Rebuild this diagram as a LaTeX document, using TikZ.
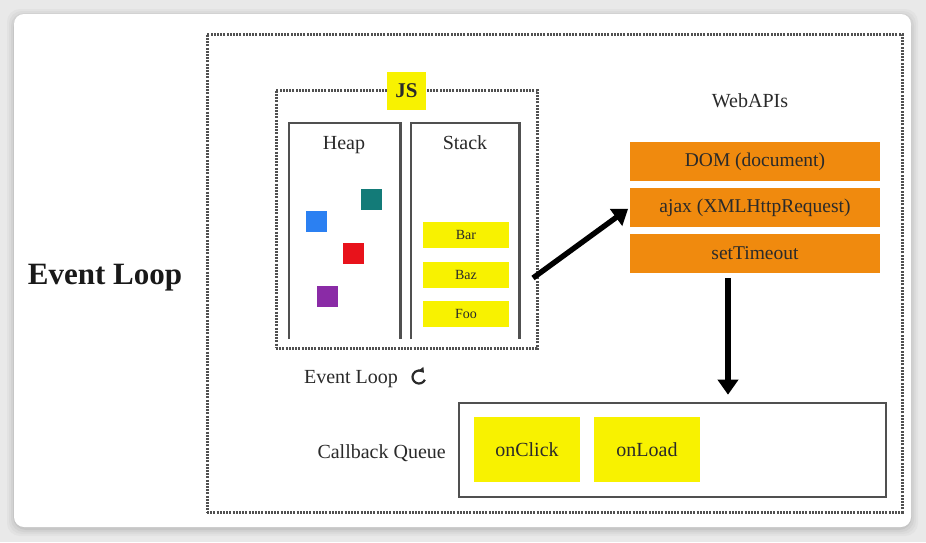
\documentclass[tikz,border=0pt]{standalone}
\usepackage{fontspec}
\setmainfont{Liberation Serif}
\usetikzlibrary{arrows.meta,calc}
\definecolor{bggray}{HTML}{E9E9E9}
\definecolor{txt}{HTML}{2A2A2A}
\definecolor{framegray}{HTML}{505050}
\definecolor{dotgray}{HTML}{505050}
\definecolor{jsyellow}{HTML}{F8F200}
\definecolor{apiorange}{HTML}{F08A0E}
\definecolor{sqteal}{HTML}{137B78}
\definecolor{sqblue}{HTML}{2B80F2}
\definecolor{sqred}{HTML}{E8121B}
\definecolor{sqpurple}{HTML}{8A2BA6}
\tikzset{
  dotframe/.style={draw=dotgray, line width=3pt, dash pattern=on 2pt off 1.2pt},
  solidframe/.style={draw=framegray, line width=2.6pt},
  lbl/.style={text=txt, font=\fontsize{20}{22}\selectfont, inner sep=0pt},
  sq/.style={minimum width=21pt, minimum height=21pt, inner sep=0pt},
  stackitem/.style={fill=jsyellow, minimum width=86pt, minimum height=26pt, inner sep=0pt, text=txt, font=\fontsize{14}{16}\selectfont},
  apibox/.style={fill=apiorange, minimum width=250pt, minimum height=39pt, inner sep=0pt, text=txt, font=\fontsize{19.5}{22}\selectfont},
  cbitem/.style={fill=jsyellow, minimum width=106pt, minimum height=65pt, inner sep=0pt, text=txt, font=\fontsize{20}{22}\selectfont},
  bigarrow/.style={draw=black, line width=5.4pt, -{Triangle[length=15pt,width=20pt]}},
}
\begin{document}
\begin{tikzpicture}[x=1pt,y=-1pt]
\useasboundingbox (0,0) rectangle (926,542);
\fill[bggray] (0,0) rectangle (926,542);
% soft shadow
\foreach \d/\c in {7/3,5/6,3/10,1/15}{
  \fill[black!\c!bggray, rounded corners=13pt] (14-\d,14-\d+2) rectangle (911+\d,527+\d+2);
}
\fill[white, rounded corners=10pt] (14,14) rectangle (911,527);

% outer dotted frame
\node[dotframe, minimum width=695pt, minimum height=478pt, inner sep=0pt] (outer) at (554.5,273) {};

% big title
\node[font=\bfseries\fontsize{31}{34}\selectfont, text=black!90, inner sep=0pt, anchor=base] (title) at (105,284) {Event Loop};

% JS frame
\node[dotframe, minimum width=261pt, minimum height=258pt, inner sep=0pt] (jsframe) at (406.5,219) {};
\node[fill=jsyellow, minimum width=39pt, minimum height=38pt, inner sep=0pt, font=\bfseries\fontsize{21}{22}\selectfont, text=txt] (js) at (406.5,91) {JS};

% heap and stack columns (open bottom)
\node[minimum width=111pt, minimum height=216pt, inner sep=0pt] (heap) at (344.5,231) {};
\node[minimum width=108pt, minimum height=216pt, inner sep=0pt] (stack) at (465,231) {};
\draw[solidframe] (heap.south west) -- (heap.north west) -- (heap.north east) -- (heap.south east);
\draw[solidframe] (stack.south west) -- (stack.north west) -- (stack.north east) -- (stack.south east);
\node[lbl, anchor=base] (heaplbl) at (344,149) {Heap};
\node[lbl, anchor=base] (stacklbl) at (465,149) {Stack};

% heap objects
\node[sq, fill=sqteal] (q1) at (371.5,199.5) {};
\node[sq, fill=sqblue] (q2) at (316.5,221) {};
\node[sq, fill=sqred] (q3) at (353.5,253) {};
\node[sq, fill=sqpurple] (q4) at (327.5,296.5) {};

% stack frames
\node[stackitem] (bar) at (466,235) {Bar};
\node[stackitem] (baz) at (466,274.5) {Baz};
\node[stackitem] (foo) at (466,314) {Foo};

% event loop label + icon
\node[lbl, anchor=base] (ellbl) at (351,383) {Event Loop};
\coordinate (icon) at (419,377);
\draw[txt, line width=2.2pt, -{Triangle[length=5pt,width=6.5pt]}] ($(icon)+(-25:6.5pt)$) arc[start angle=-25, end angle=-320, radius=6.5pt];

% web apis
\node[lbl, anchor=base] (webapis) at (750,107) {WebAPIs};
\node[apibox] (dom) at (755,161.5) {DOM (document)};
\node[apibox] (ajax) at (755,207.5) {ajax (XMLHttpRequest)};
\node[apibox] (timeout) at (755,253.5) {setTimeout};

% callback queue
\node[solidframe, minimum width=427pt, minimum height=94pt, inner sep=0pt] (queue) at (672.5,450) {};
\node[cbitem] (onclick) at (527,449.5) {onClick};
\node[cbitem] (onload) at (647,449.5) {onLoad};
\node[lbl, anchor=base east] (cblbl) at (446,458) {Callback Queue};

% arrows
\coordinate (a1s) at (533,278);
\draw[bigarrow, shorten >=2pt] (a1s) -- (ajax.west);
\coordinate (a2s) at ($(timeout.south)+(-27,5)$);
\draw[bigarrow, shorten >=7pt] (a2s) -- (a2s |- queue.north);
\end{tikzpicture}
\end{document}
